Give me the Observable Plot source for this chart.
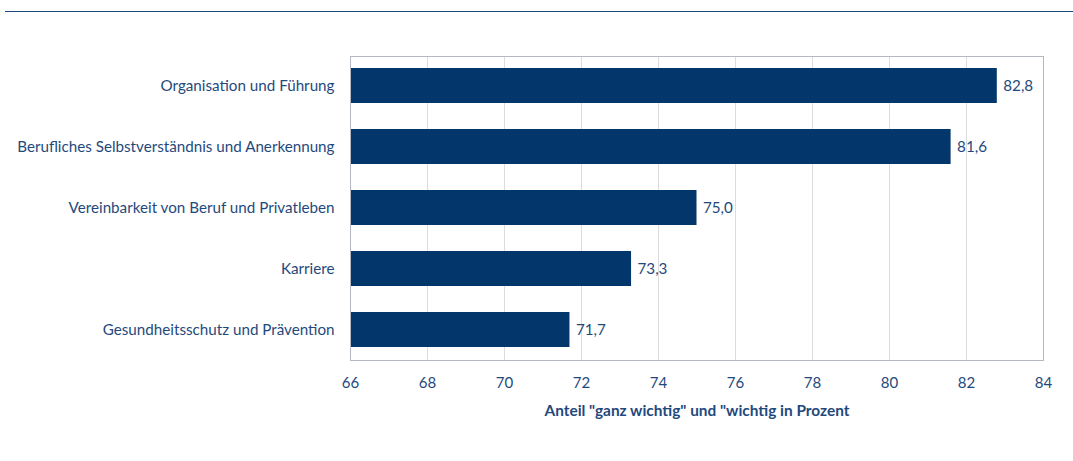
<!DOCTYPE html>
<html><head><meta charset="utf-8">
<script src="https://cdn.jsdelivr.net/npm/d3@7"></script>
<script src="https://cdn.jsdelivr.net/npm/@observablehq/plot@0.6"></script>
<style>
body{margin:0;background:#fff;font-family:Lato,"Liberation Sans",sans-serif;}
#rule{position:absolute;left:5px;right:0;top:11px;height:1px;background:#1a4a7e;}
#chart{position:absolute;left:0;top:0;}
</style></head>
<body><div id="rule"></div><div id="chart"></div>
<script>
const categories = ["Organisation und Führung","Berufliches Selbstverständnis und Anerkennung","Vereinbarkeit von Beruf und Privatleben","Karriere","Gesundheitsschutz und Prävention"];
const values = [82.8, 81.6, 75.0, 73.3, 71.7];
const xTicks = [66, 68, 70, 72, 74, 76, 78, 80, 82, 84];
const xTitle = 'Anteil "ganz wichtig" und "wichtig in Prozent';
const data = categories.map((c, i) => ({c, v: values[i]}));
const textColor = "#1f497d";
const plot = Plot.plot({
  width: 1073, height: 461,
  marginTop: 56, marginBottom: 101, marginLeft: 350, marginRight: 30,
  style: {fontFamily: "Lato, sans-serif", fontSize: "15px", color: textColor, background: "transparent"},
  x: {domain: [66, 84]},
  y: {domain: categories, paddingInner: 0.42, paddingOuter: 0.2, label: null},
  marks: [
    Plot.gridX(xTicks.slice(1, -1), {stroke: "#dcdcdc", strokeOpacity: 1}),
    Plot.barX(data, {x1: 66, x2: "v", y: "c", fill: "#03366a"}),
    Plot.frame({stroke: "#b4b8c4"}),
    Plot.text(data, {x: "v", y: "c", text: d => d.v.toFixed(1).replace(".", ","), textAnchor: "start", dx: 6, fill: textColor, fontSize: 15.2}),
    Plot.axisX(xTicks, {tickSize: 0, tickPadding: 17, fontSize: 15, fill: textColor, label: xTitle, labelAnchor: "center", labelArrow: "none", labelOffset: 55}),
    Plot.axisY({tickSize: 0, tickPadding: 16, fontSize: 15.2, fill: textColor})
  ]
});
plot.querySelectorAll('[aria-label="x-axis label"] text').forEach(t => { t.setAttribute("font-weight", "bold"); t.setAttribute("font-size", "15.4"); });
document.getElementById("chart").appendChild(plot);
</script>
</body></html>
